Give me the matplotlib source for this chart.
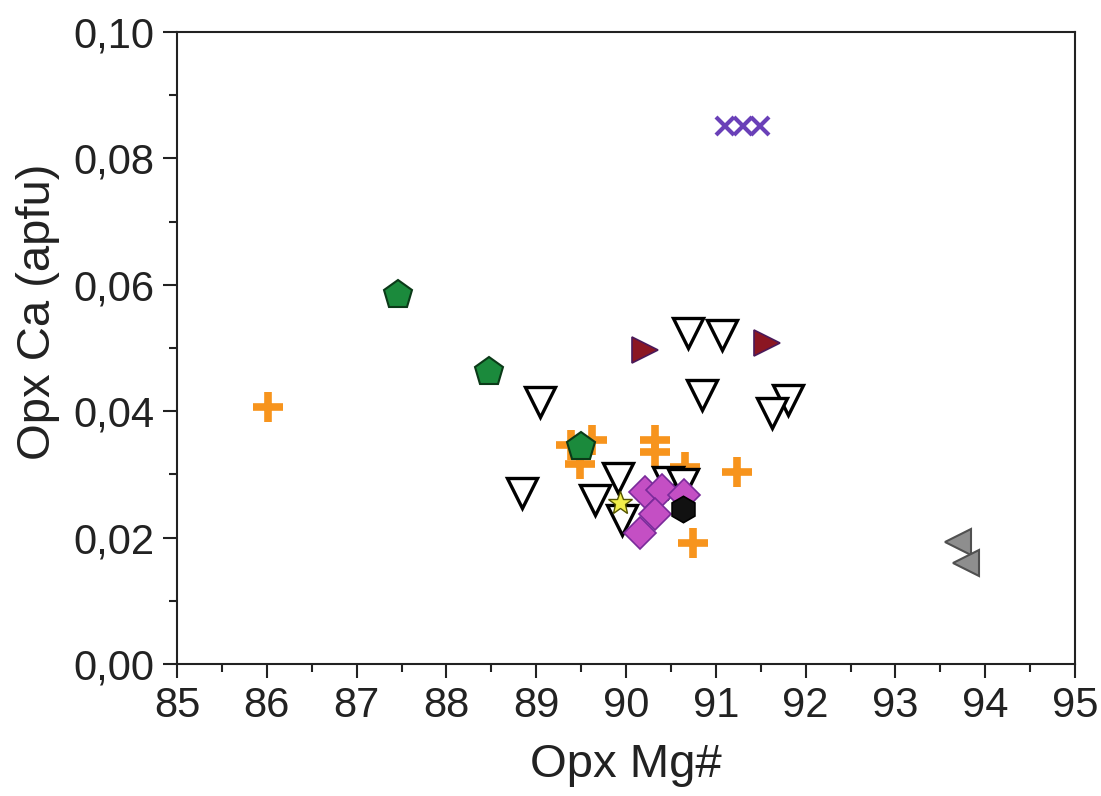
import matplotlib
matplotlib.use("Agg")
import matplotlib.pyplot as plt
from matplotlib.ticker import MultipleLocator, FuncFormatter

plt.rcParams['font.family'] = ['Liberation Sans', 'DejaVu Sans']

# Data (Opx Mg#, Opx Ca apfu) per group
plus_x = [86.01, 89.39, 89.62, 89.49, 90.32, 90.32, 90.66, 91.24, 90.75]
plus_y = [0.0407, 0.0347, 0.0354, 0.0316, 0.0355, 0.0336, 0.0312, 0.0304, 0.0191]

pent_x = [87.46, 88.47, 89.50]
pent_y = [0.0584, 0.0462, 0.0343]

tri_down_x = [90.69, 91.07, 90.85, 91.80, 91.63, 89.04, 88.84, 89.91, 89.65, 89.96, 90.47, 90.63]
tri_down_y = [0.0524, 0.0521, 0.0426, 0.0418, 0.0397, 0.0415, 0.0271, 0.0294, 0.0260, 0.0228, 0.0288, 0.0285]

tri_right_x = [90.21, 91.57]
tri_right_y = [0.0497, 0.0508]

tri_left_x = [93.70, 93.79]
tri_left_y = [0.0193, 0.0160]

cross_x = [91.10, 91.30, 91.49]
cross_y = [0.0851, 0.0851, 0.0851]

diam_x = [90.21, 90.40, 90.32, 90.16, 90.65]
diam_y = [0.0272, 0.0275, 0.0237, 0.0207, 0.0268]

star_x = [89.93]
star_y = [0.0255]

hex_x = [90.63]
hex_y = [0.0245]

fig = plt.figure(figsize=(11.01, 7.96), dpi=100)
ax = fig.add_axes([0.1608, 0.1658, 0.8156, 0.794])

ax.plot(plus_x, plus_y, ls='none', marker='+', ms=22, mew=5.5, color='#F7941D')
ax.plot(tri_down_x, tri_down_y, ls='none', marker='v', ms=21, mew=2.4,
        mfc='white', mec='black')
ax.plot(pent_x, pent_y, ls='none', marker='p', ms=21, mew=1.5,
        mfc='#1B8A3C', mec='#0B3A18')
ax.plot(tri_right_x, tri_right_y, ls='none', marker='>', ms=19, mew=1.2,
        mfc='#8B1622', mec='#4A1A5A')
ax.plot(tri_left_x, tri_left_y, ls='none', marker='<', ms=19, mew=1.5,
        mfc='#8E8E8E', mec='#505050')
ax.plot(cross_x, cross_y, ls='none', marker='x', ms=13, mew=3,
        color='#6A40B8')
ax.plot(diam_x, diam_y, ls='none', marker='D', ms=16, mew=1.2,
        mfc='#C44FC4', mec='#7A2A9A')
ax.plot(star_x, star_y, ls='none', marker='*', ms=18, mew=1,
        mfc='#F2EE4A', mec='#555500')
ax.plot(hex_x, hex_y, ls='none', marker='h', ms=19, mew=1.2,
        mfc='#111111', mec='black')

ax.set_xlim(85, 95)
ax.set_ylim(0, 0.10)
ax.xaxis.set_major_locator(MultipleLocator(1))
ax.xaxis.set_minor_locator(MultipleLocator(0.5))
ax.yaxis.set_major_locator(MultipleLocator(0.02))
ax.yaxis.set_minor_locator(MultipleLocator(0.01))
ax.yaxis.set_major_formatter(FuncFormatter(lambda v, p: f"{v:.2f}".replace('.', ',')))

ax.tick_params(which='both', direction='out', width=1.5, top=False, right=False,
               labelsize=30, colors='#222222')
ax.tick_params(which='major', length=10, pad=6)
ax.tick_params(which='minor', length=6)
for s in ax.spines.values():
    s.set_linewidth(1.5)
    s.set_color('#222222')

ax.set_xlabel("Opx Mg#", fontsize=34, labelpad=12, color='#222222')
ax.set_ylabel("Opx Ca (apfu)", fontsize=34, color='#222222')
ax.yaxis.set_label_coords(-0.13, 0.557)

fig.savefig("out.png", dpi=100)
